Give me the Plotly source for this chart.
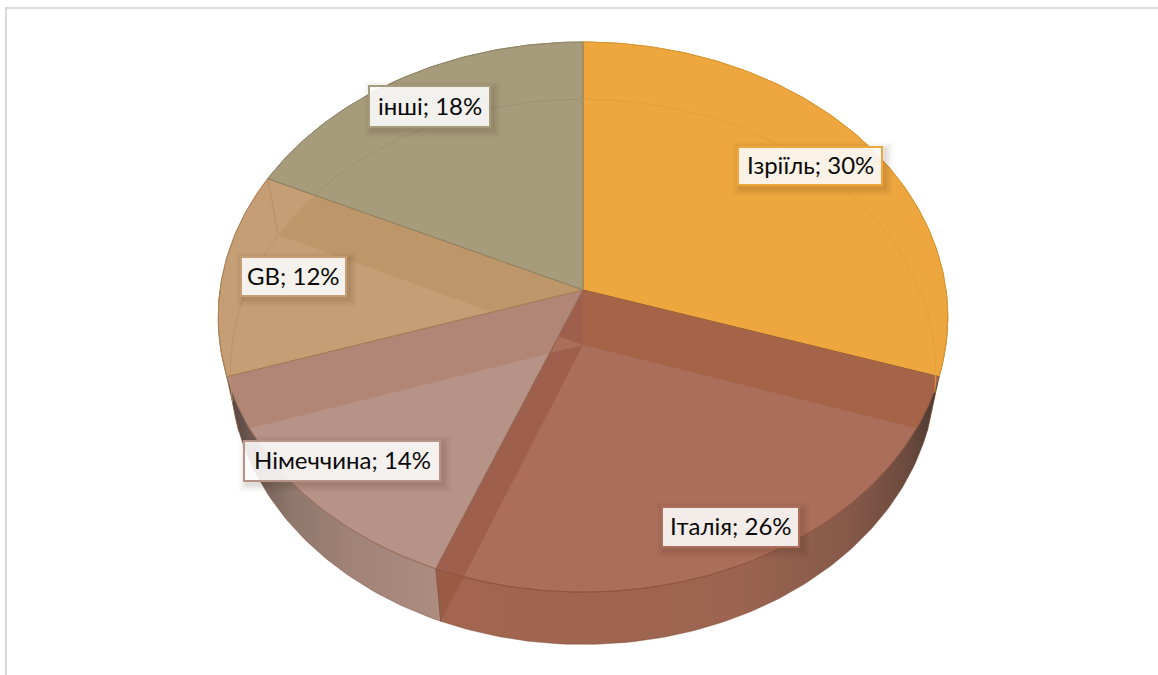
import numpy as np
import plotly.graph_objects as go

# Дані діаграми
labels = ["Ізріїль", "Італія", "Німеччина", "GB", "інші"]
shares = [30, 26, 14, 12, 18]

# Кольори
face_colors = ["#EEA63E", "#AB6E5B", "#B79286", "#C69E75", "#A69C7C"]
edge_colors = ["#D8952F", "#8F5642", "#96705F", "#AD8256", "#8F8566"]
arc_colors = ["#E59E38", "#9C6250", "#A98377", "#B8916A", "#9B9173"]
label_borders = ["#EEA63E", "#AB6E5B", "#B79286", "#C69E75", "#A69C7C"]

# Смуги, де верхня грань лежить над чужим сектором нижньої грані
overlaps = [
    (1, 0, "#A56348"), (1, 2, "#9E604C"), (1, 4, "#9E604C"),
    (2, 3, "#B18677"), (2, 4, "#B18677"), (3, 4, "#BD9769"),
]

# Положення підписів (центр, розмір)
label_x = [810, 730.5, 342, 293.5, 429.5]
label_y = [166, 527, 461, 276.5, 106.5]
label_w = [144, 137, 196, 105, 121]
label_h = [38, 40, 40, 39, 41]

# Перспектива диска
CX = 583
TOP_Y, TOP_R, TOP_H = 290, 363, 272.4
BOT_Y, BOT_R, BOT_H = 345, 351, 270
K = 0.0983


def project(angle, cy, rx, ry, radius=1.0):
    u = radius * np.sin(angle)
    v = radius * np.cos(angle)
    w = 1 + K * v
    return CX + rx * u / w, cy - ry * v / w


def arc(a0, a1, cy, rx, ry):
    t = np.linspace(a0, a1, max(int(abs(a1 - a0) * 60), 2))
    x, y = project(t, cy, rx, ry)
    return list(zip(x, y))


def wedge(a0, a1, cy, rx, ry):
    return [(CX, cy)] + arc(a0, a1, cy, rx, ry)


def side_of(a, b, p):
    return (b[0] - a[0]) * (p[1] - a[1]) - (b[1] - a[1]) * (p[0] - a[0])


def clip(subject, clipper):
    # Sutherland-Hodgman, clipper опуклий і за годинниковою стрілкою на екрані
    out = subject
    for i in range(len(clipper)):
        a, b = clipper[i], clipper[(i + 1) % len(clipper)]
        if abs(a[0] - b[0]) + abs(a[1] - b[1]) < 1e-9:
            continue
        src, out = out, []
        for j in range(len(src)):
            p, q = src[j], src[(j + 1) % len(src)]
            sp, sq = side_of(a, b, p), side_of(a, b, q)
            if sp >= 0:
                out.append(p)
            if (sp >= 0) != (sq >= 0):
                s = sp / (sp - sq)
                out.append((p[0] + s * (q[0] - p[0]), p[1] + s * (q[1] - p[1])))
        if not out:
            break
    return out


def polyline(points, color, width):
    return go.Scatter(x=[p[0] for p in points], y=[p[1] for p in points], mode="lines",
                      hoverinfo="skip", showlegend=False, line=dict(color=color, width=width))


def polygon(points, fill, line=None, width=0):
    pts = points + points[:1]
    return go.Scatter(
        x=[p[0] for p in pts], y=[p[1] for p in pts], mode="lines", fill="toself", fillcolor=fill,
        line=dict(color=line or fill, width=width), hoverinfo="skip", showlegend=False
    )


edges = np.radians(np.cumsum([0] + shares) * 3.6)
fig = go.Figure()

# Бічна стінка
wall_scales = [
    [[0, "#E39A2E"], [0.5, "#7A5A2A"], [1, "#3E3020"]],
    [[0, "#A3654F"], [0.6, "#9C6450"], [0.82, "#86594A"], [0.94, "#6B4A3D"], [1, "#473830"]],
    [[0, "#4F423E"], [0.1, "#6B5650"], [0.3, "#8F776C"], [0.6, "#A28377"], [1, "#AD8C80"]],
    [[0, "#3E3020"], [0.5, "#7A5A2A"], [1, "#C08A4A"]],
]
for i in range(4):
    a0, a1 = edges[i], edges[i + 1]
    if i == 0:
        a0 = np.radians(90)
    if i == 3:
        a1 = np.radians(270)
    pts = arc(a0, a1, TOP_Y, TOP_R, TOP_H) + arc(a1, a0, BOT_Y, BOT_R, BOT_H)
    pts = pts + pts[:1]
    fig.add_trace(go.Scatter(
        x=[p[0] for p in pts], y=[p[1] for p in pts], mode="lines", fill="toself",
        fillgradient=dict(type="horizontal", colorscale=wall_scales[i]),
        line=dict(color="rgba(120,70,50,0.6)", width=0.7),
        hoverinfo="skip", showlegend=False
    ))

# Стінка Італії над нижнім сектором Німеччини
wall_it = arc(edges[1], edges[2], TOP_Y, TOP_R, TOP_H)[::-1]
wall_it = wall_it + arc(edges[1], edges[2], BOT_Y, BOT_R, BOT_H)
bot_de = wedge(edges[2], edges[3], BOT_Y, BOT_R, BOT_H)
fig.add_trace(polygon(clip(wall_it, bot_de), "#9A5B45"))

# Верхня грань
for i in range(5):
    pts = wedge(edges[i], edges[i + 1], TOP_Y, TOP_R, TOP_H)
    fig.add_trace(polygon(pts, face_colors[i], edge_colors[i], 0.9))

# Смуги перетину
for top_i, bot_i, color in overlaps:
    top_w = wedge(edges[top_i], edges[top_i + 1], TOP_Y, TOP_R, TOP_H)
    bot_w = wedge(edges[bot_i], edges[bot_i + 1], BOT_Y, BOT_R, BOT_H)
    part = clip(top_w, bot_w)
    if part:
        fig.add_trace(polygon(part, color))

# Контури верхніх секторів поверх смуг
for i in range(5):
    pts = wedge(edges[i], edges[i + 1], TOP_Y, TOP_R, TOP_H)
    fig.add_trace(polyline(pts + pts[:1], edge_colors[i], 0.9))

# Вертикальні ребра між гранями
for a, color in [(edges[2], "#85594A"), (edges[4], "#B58C62")]:
    tx, ty = project(a, TOP_Y, TOP_R, TOP_H)
    bx, by = project(a, BOT_Y, BOT_R, BOT_H)
    fig.add_trace(polyline([(tx, ty), (bx, by)], color, 0.9))

# Контур нижньої грані, що просвічує
top_other = wedge(edges[4], edges[5], TOP_Y, TOP_R, TOP_H)
pts = [p for p in arc(edges[4], edges[5], BOT_Y, BOT_R, BOT_H)
       if side_of(top_other[0], top_other[1], p) >= 0]
fig.add_trace(polyline(pts, arc_colors[4], 0.9))
fig.add_trace(polyline(arc(edges[0], np.radians(100), BOT_Y, BOT_R, BOT_H), arc_colors[0], 0.9))
fig.add_trace(polyline(arc(np.radians(258), edges[4], BOT_Y, BOT_R, BOT_H), arc_colors[3], 0.9))

# Рамка і підписи
shapes = [dict(type="rect", x0=6, y0=8, x1=1200, y1=720, line=dict(color="#D9D9D9", width=2),
               layer="below")]
annotations = []
for i, name in enumerate(labels):
    x0, x1 = label_x[i] - label_w[i] / 2, label_x[i] + label_w[i] / 2
    y0, y1 = label_y[i] - label_h[i] / 2, label_y[i] + label_h[i] / 2
    for grow, alpha in [(8, 0.025), (6, 0.035), (4, 0.045), (2, 0.055)]:
        shapes.append(dict(type="rect", x0=x0 + 3 - grow, x1=x1 + 3 + grow,
                           y0=y0 + 3 - grow, y1=y1 + 3 + grow, layer="above",
                           line=dict(width=0), fillcolor=f"rgba(60,40,20,{alpha})"))
    shapes.append(dict(type="rect", x0=x0, x1=x1, y0=y0, y1=y1, layer="above",
                       fillcolor="rgba(255,255,255,0.88)",
                       line=dict(color=label_borders[i], width=2)))
    annotations.append(dict(x=label_x[i], y=label_y[i], xref="x", yref="y", yshift=1.5,
                            text=f"{name}; {shares[i]}%", showarrow=False,
                            font=dict(family="Lato", size=24, color="#0A0A0A")))

fig.update_layout(
    width=1158, height=675,
    margin=dict(l=0, r=0, t=0, b=0),
    paper_bgcolor="white", plot_bgcolor="white",
    showlegend=False,
    shapes=shapes, annotations=annotations,
    xaxis=dict(range=[0, 1158], visible=False, fixedrange=True),
    yaxis=dict(range=[675, 0], visible=False, fixedrange=True),
)

fig.write_html("out.html", config=dict(displayModeBar=False),
               post_script="document.body.style.margin='0';")
